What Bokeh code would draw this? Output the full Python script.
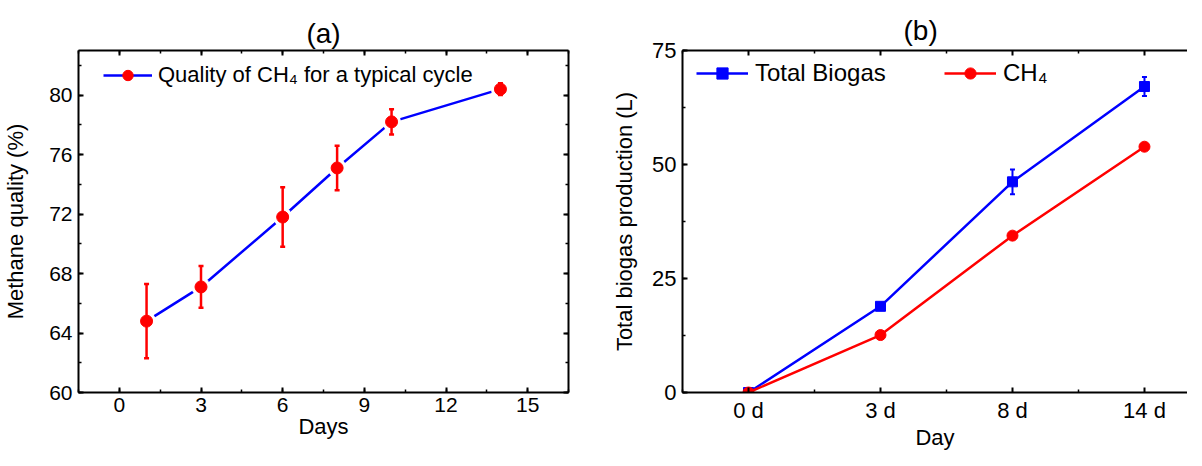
from bokeh.plotting import figure
from bokeh.models import (ColumnDataSource, LinearAxis, SingleIntervalTicker, FixedTicker,
                          Legend, LegendItem, Range1d)
from bokeh.layouts import row
from bokeh.embed import file_html
from bokeh.resources import INLINE

FONT = "Liberation Sans"

# ---------------- data: panel (a) ----------------
days_a = [1, 3, 6, 8, 10, 14]
quality = [64.8, 67.1, 71.8, 75.1, 78.2, 80.4]
quality_err = [2.5, 1.4, 2.0, 1.5, 0.85, 0.4]

# ---------------- data: panel (b) ----------------
days_b = ["0 d", "3 d", "8 d", "14 d"]
total_biogas = [0.0, 18.9, 46.2, 67.1]
total_err = [0.0, 0.0, 2.7, 2.1]
ch4 = [0.0, 12.6, 34.4, 53.9]

BLUE = "#0000ff"
RED = "#ff0000"
FRAME_H = 342


def style_axis(ax, labels=True, tick_size="21px"):
    ax.axis_line_width = 2
    ax.axis_line_color = "black"
    ax.major_tick_in = 5
    ax.major_tick_out = 0
    ax.minor_tick_in = 3
    ax.minor_tick_out = 0
    ax.major_tick_line_width = 2
    ax.minor_tick_line_width = 1.5
    ax.major_tick_line_color = "black"
    ax.minor_tick_line_color = "black"
    ax.major_label_text_font = FONT
    ax.major_label_text_font_size = tick_size
    ax.major_label_text_color = "black"
    ax.major_label_text_line_height = 1.0
    ax.axis_label_text_font = FONT
    ax.axis_label_text_font_size = "22px"
    ax.axis_label_text_font_style = "normal"
    ax.axis_label_text_color = "black"
    ax.axis_label_text_line_height = 1.0
    if not labels:
        ax.major_label_text_font_size = "1px"
        ax.major_label_text_color = None
        ax.major_label_standoff = 0


def style_title(t, standoff):
    t.text_font = FONT
    t.text_font_size = "28px"
    t.text_font_style = "normal"
    t.text_color = "black"
    t.standoff = standoff


def style_legend(lg, size="22px", h=26):
    lg.border_line_color = None
    lg.background_fill_alpha = 0
    lg.padding = 0
    lg.margin = 0
    lg.spacing = 0
    lg.label_standoff = 6
    lg.glyph_width = 49
    lg.glyph_height = h
    lg.label_height = h
    lg.label_text_font = FONT
    lg.label_text_font_size = size
    lg.label_text_color = "black"


# ================= panel (a) =================
p1 = figure(frame_width=490, frame_height=FRAME_H,
            x_range=Range1d(-1.5, 16.5), y_range=Range1d(60, 83),
            output_backend="svg", toolbar_location=None,
            min_border_left=77, min_border_right=33, min_border_top=50, min_border_bottom=50)
p1.xgrid.visible = False
p1.ygrid.visible = False
p1.outline_line_color = None

xt_a = SingleIntervalTicker(interval=3, num_minor_ticks=2)
yt_a = SingleIntervalTicker(interval=4, num_minor_ticks=2)
p1.xaxis.ticker = xt_a
p1.yaxis.ticker = yt_a
p1.xaxis.axis_label = "Days"
p1.yaxis.axis_label = "Methane quality (%)"
for ax in p1.xaxis + p1.yaxis:
    style_axis(ax)
p1.xaxis.major_label_standoff = 5
p1.xaxis.axis_label_standoff = -1
p1.yaxis.major_label_standoff = 6
p1.yaxis.axis_label_standoff = 18

top_a = LinearAxis(ticker=xt_a)
style_axis(top_a, labels=False)
p1.add_layout(top_a, "above")
right_a = LinearAxis(ticker=yt_a)
style_axis(right_a, labels=False)
p1.add_layout(right_a, "right")

p1.title.text = "(a)"
p1.title.align = "center"
style_title(p1.title, 4)

src_a = ColumnDataSource(dict(
    x=days_a, y=quality,
    upper=[q + e for q, e in zip(quality, quality_err)],
    lower=[q - e for q, e in zip(quality, quality_err)],
))
line_a = p1.line("x", "y", source=src_a, line_color=BLUE, line_width=2.5)
p1.scatter("x", "y", source=src_a, size=19, fill_color="white", line_color=None)
p1.segment("x", "lower", "x", "upper", source=src_a, line_color=RED, line_width=2.5)
p1.scatter("x", "upper", source=src_a, marker="dash", size=5, line_color=RED, line_width=2.5)
p1.scatter("x", "lower", source=src_a, marker="dash", size=5, line_color=RED, line_width=2.5)
mk_a = p1.scatter("x", "y", source=src_a, size=12, fill_color=RED, line_color=RED)

leg_a = Legend(items=[LegendItem(label="Quality of CH\u2084 for a typical cycle",
                                 renderers=[line_a, mk_a])],
               location=(25, FRAME_H - 38))
style_legend(leg_a)
p1.add_layout(leg_a)

# ================= panel (b) =================
xb = list(range(len(days_b)))
p2 = figure(frame_width=505, frame_height=FRAME_H,
            x_range=Range1d(-0.5, 3.326), y_range=Range1d(0, 75),
            output_backend="svg", toolbar_location=None,
            min_border_left=81, min_border_right=0, min_border_top=50, min_border_bottom=50)
p2.xgrid.visible = False
p2.ygrid.visible = False
p2.outline_line_color = None

xt_b = FixedTicker(ticks=xb, minor_ticks=[i - 0.5 for i in range(len(days_b) + 1)])
yt_b = SingleIntervalTicker(interval=25, num_minor_ticks=2)
p2.xaxis.ticker = xt_b
p2.yaxis.ticker = yt_b
p2.xaxis.major_label_overrides = {i: lab for i, lab in enumerate(days_b)}
p2.xaxis.axis_label = "Day"
p2.yaxis.axis_label = "Total biogas production (L)"
for ax in p2.xaxis + p2.yaxis:
    style_axis(ax, tick_size="22px")
p2.xaxis.major_label_standoff = 5
p2.xaxis.axis_label_standoff = -1
p2.yaxis.major_label_standoff = 6
p2.yaxis.axis_label_standoff = 12

top_b = LinearAxis(ticker=xt_b)
style_axis(top_b, labels=False)
p2.add_layout(top_b, "above")

p2.title.text = "(b)"
p2.title.align = "left"
p2.title.offset = 221
style_title(p2.title, 10)

src_tb = ColumnDataSource(dict(
    x=xb, y=total_biogas,
    upper=[v + e for v, e in zip(total_biogas, total_err)],
    lower=[v - e for v, e in zip(total_biogas, total_err)],
))
src_ch = ColumnDataSource(dict(x=xb, y=ch4))

line_tb = p2.line("x", "y", source=src_tb, line_color=BLUE, line_width=2.5)
p2.segment("x", "lower", "x", "upper", source=src_tb, line_color=BLUE, line_width=2)
p2.scatter("x", "upper", source=src_tb, marker="dash", size=5, line_color=BLUE, line_width=2)
p2.scatter("x", "lower", source=src_tb, marker="dash", size=5, line_color=BLUE, line_width=2)
mk_tb = p2.scatter("x", "y", source=src_tb, marker="square", size=10, fill_color=BLUE, line_color=BLUE)

line_ch = p2.line("x", "y", source=src_ch, line_color=RED, line_width=2.5)
mk_ch = p2.scatter("x", "y", source=src_ch, marker="circle", size=11, fill_color=RED, line_color=RED)

leg_b1 = Legend(items=[LegendItem(label="Total Biogas", renderers=[line_tb, mk_tb])],
                location=(14, FRAME_H - 37))
leg_b2 = Legend(items=[LegendItem(label="CH\u2084", renderers=[line_ch, mk_ch])],
                location=(262, FRAME_H - 37))
for lg in (leg_b1, leg_b2):
    style_legend(lg, "24px", 28)
    lg.glyph_width = 52
    lg.label_standoff = 7
    p2.add_layout(lg)

layout = row(p1, p2)
open("out.html", "w").write(file_html(layout, INLINE))
